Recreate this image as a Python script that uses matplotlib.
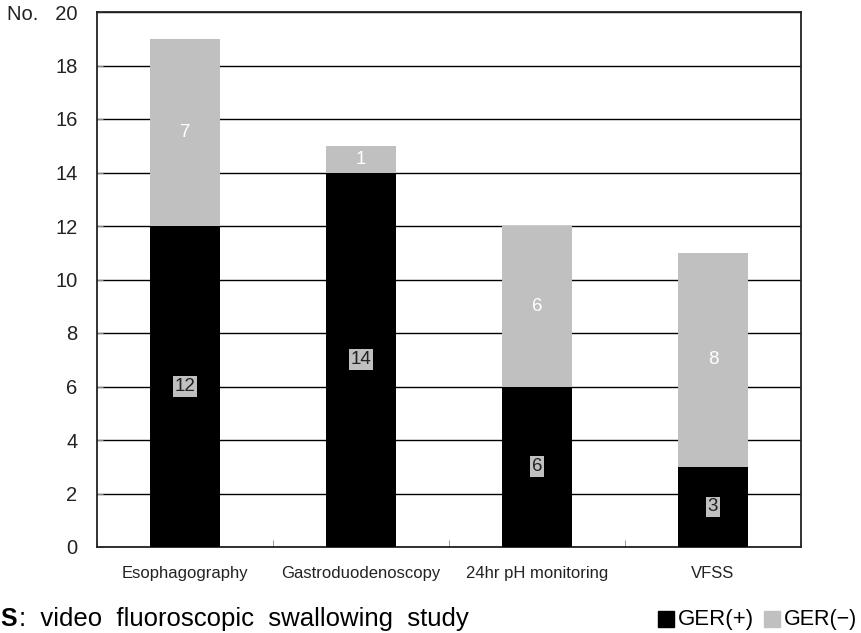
import matplotlib.pyplot as plt
import numpy as np

plt.rcParams['font.family'] = ['Liberation Sans', 'DejaVu Sans']

# data
categories = ["Esophagography", "Gastroduodenoscopy", "24hr pH monitoring", "VFSS"]
ger_pos = [12, 14, 6, 3]
ger_neg = [7, 1, 6, 8]
yticks = [0, 2, 4, 6, 8, 10, 12, 14, 16, 18, 20]

W, H = 861, 633
fig = plt.figure(figsize=(W / 100, H / 100), dpi=100)
ax = fig.add_axes([97 / W, (H - 547) / H, 704 / W, 535 / H])

x = np.arange(len(categories))
w = 0.4
ax.bar(x, ger_pos, w, color='black', zorder=3)
ax.bar(x, ger_neg, w, bottom=ger_pos, color='#c0c0c0', zorder=3)

# labels inside the segments
for xi, p, n in zip(x, ger_pos, ger_neg):
    ax.text(xi, p / 2, str(p), ha='center', va='center', fontsize=13.5, color='#222222', zorder=4,
            bbox=dict(boxstyle='square,pad=0.1', fc='#c0c0c0', ec='none'))
    ax.text(xi, p + n / 2, str(n), ha='center', va='center', fontsize=13.5, color='white', zorder=4)

ax.set_xlim(-0.5, len(categories) - 0.5)
ax.set_ylim(0, 20)
ax.set_yticks(yticks)
ax.set_yticklabels([str(t) if t != 20 else "No.   20" for t in yticks], fontsize=14.5, color='#222222')
ax.yaxis.grid(True, color='black', linewidth=1.0, zorder=0)
ax.tick_params(axis='y', direction='in', length=4, color='#888888', pad=14)

# category ticks sit between the groups
ax.set_xticks(x)
ax.set_xticklabels(categories, fontsize=12, color='#222222')
ax.set_xticks(np.arange(len(categories) + 1) - 0.5, minor=True)
ax.tick_params(axis='x', which='major', length=0, pad=14)
ax.tick_params(axis='x', which='minor', direction='in', length=5, color='#888888')

for s in ax.spines.values():
    s.set_color('#222222')
    s.set_linewidth(1.3)

# footer note and legend
fy = 1 - 619 / H
fig.text(0 / W, fy, "S", fontsize=18, fontweight='bold', ha='left', va='center')
fig.text(19 / W, fy, ":  video  fluoroscopic  swallowing  study", fontsize=18.5, ha='left', va='center')

sq = 16
fig.patches.append(plt.Rectangle((658 / W, fy - sq / 2 / H), sq / W, sq / H, color='black',
                                 transform=fig.transFigure))
fig.text(678 / W, fy, "GER(+)", fontsize=16, ha='left', va='center')
fig.patches.append(plt.Rectangle((764 / W, fy - sq / 2 / H), sq / W, sq / H, color='#c0c0c0',
                                 transform=fig.transFigure))
fig.text(784 / W, fy, "GER(\u2212)", fontsize=15.5, ha='left', va='center')

fig.savefig("out.png", dpi=100)
